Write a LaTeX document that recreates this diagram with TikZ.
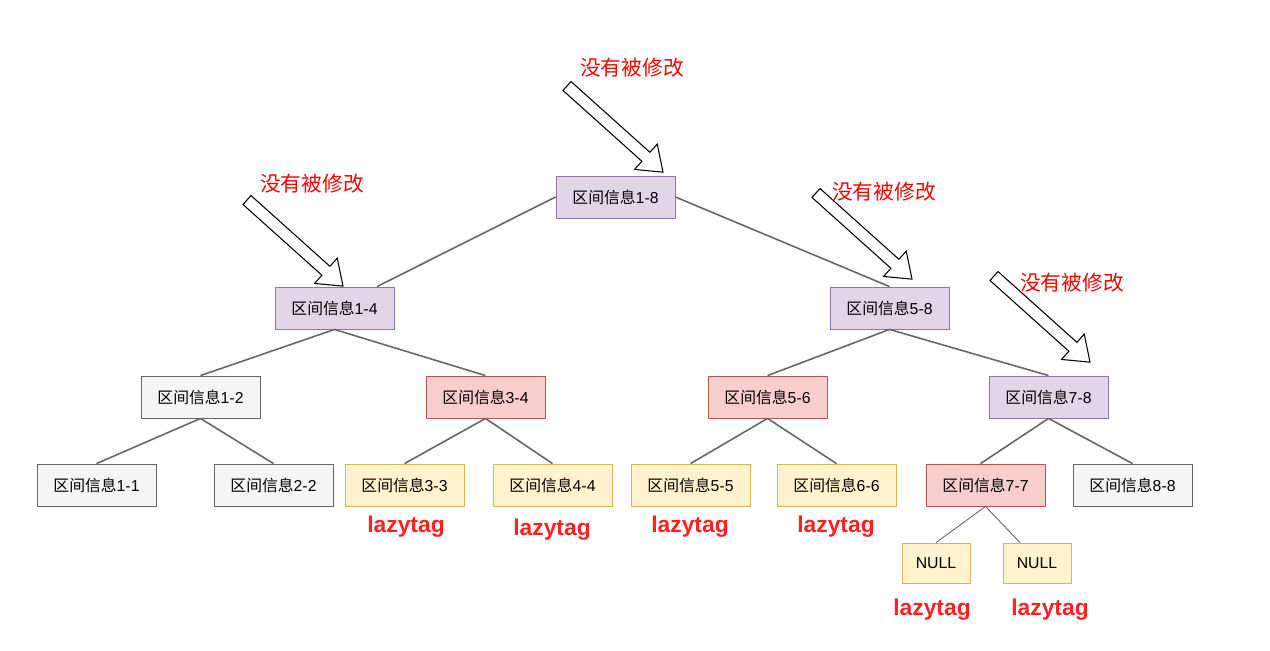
\documentclass[tikz,border=0pt]{standalone}
\usepackage{fontspec}
\setmainfont{Liberation Sans}
\newfontfamily\cjk{Noto Sans CJK SC}
\usetikzlibrary{positioning}
\definecolor{purplefill}{HTML}{E1D5E7}
\definecolor{purpleline}{HTML}{9673A6}
\definecolor{grayfill}{HTML}{F5F5F5}
\definecolor{grayline}{HTML}{666666}
\definecolor{redfill}{HTML}{F8CECC}
\definecolor{redline}{HTML}{B85450}
\definecolor{yellowfill}{HTML}{FFF2CC}
\definecolor{yellowline}{HTML}{D6B656}
\definecolor{edgegray}{HTML}{666666}
\definecolor{notered}{HTML}{FF0000}
\definecolor{lazyred}{HTML}{FF2020}
\newcommand{\qujian}[1]{{\cjk 区间信息}#1}

\begin{document}
\begin{tikzpicture}[
    x=0.02cm, y=-0.02cm,
    box/.style={rectangle, draw, line width=0.5pt, minimum width=2.38cm, minimum height=0.84cm, inner sep=0pt, font=\fontsize{9}{10}\selectfont},
    purplebox/.style={box, fill=purplefill, draw=purpleline},
    graybox/.style={box, fill=grayfill, draw=grayline},
    redbox/.style={box, fill=redfill, draw=redline},
    yellowbox/.style={box, fill=yellowfill, draw=yellowline},
    nullbox/.style={yellowbox, minimum width=1.36cm, minimum height=0.8cm},
    edge/.style={draw=edgegray, line width=0.9pt},
    thinedge/.style={draw=edgegray, line width=0.5pt},
    note/.style={text=notered, font=\cjk\fontsize{11.8}{13}\selectfont},
    lazy/.style={text=lazyred, font=\bfseries\fontsize{13}{15}\selectfont},
    hollowarrow/.pic={
        \draw[fill=white, line width=0.6pt, line join=miter]
            (0,-6) -- (106,-6) -- (106,-17) -- (129,0) -- (106,17) -- (106,6) -- (0,6) -- cycle;
    }
]
\useasboundingbox (0,0) rectangle (1270,650);

% level 0
\node[purplebox] (n18) at (615.5,197) {\qujian{1-8}};
% level 1
\node[purplebox] (n14) at (334.5,308) {\qujian{1-4}};
\node[purplebox] (n58) at (889.5,308) {\qujian{5-8}};
% level 2
\node[graybox]   (n12) at (200.5,397)  {\qujian{1-2}};
\node[redbox]    (n34) at (485.5,397)  {\qujian{3-4}};
\node[redbox]    (n56) at (767.5,397)  {\qujian{5-6}};
\node[purplebox] (n78) at (1048.5,397) {\qujian{7-8}};
% level 3
\node[graybox]   (n11) at (96.5,485)   {\qujian{1-1}};
\node[graybox]   (n22) at (273.5,485)  {\qujian{2-2}};
\node[yellowbox] (n33) at (404.5,485)  {\qujian{3-3}};
\node[yellowbox] (n44) at (552.5,485)  {\qujian{4-4}};
\node[yellowbox] (n55) at (690.5,485)  {\qujian{5-5}};
\node[yellowbox] (n66) at (836.5,485)  {\qujian{6-6}};
\node[redbox]    (n77) at (985.5,485)  {\qujian{7-7}};
\node[graybox]   (n88) at (1132.5,485) {\qujian{8-8}};
% level 4
\node[nullbox] (nullA) at (936,563)  {NULL};
\node[nullbox] (nullB) at (1037,563) {NULL};

% edges
\draw[edge] (n18.west) -- ([xshift=0.85cm]n14.north);
\draw[edge] (n18.east) -- (n58.north);
\draw[edge] (n14.south) -- (n12.north);
\draw[edge] (n14.south) -- (n34.north);
\draw[edge] (n58.south) -- (n56.north);
\draw[edge] (n58.south) -- (n78.north);
\draw[edge] (n12.south) -- (n11.north);
\draw[edge] (n12.south) -- (n22.north);
\draw[edge] (n34.south) -- (n33.north);
\draw[edge] (n34.south) -- (n44.north);
\draw[edge] (n56.south) -- (n55.north);
\draw[edge] (n56.south) -- (n66.north);
\draw[edge] (n78.south) -- ([xshift=-0.1cm]n77.north);
\draw[edge] (n78.south) -- (n88.north);
\draw[thinedge] (n77.south) -- (nullA.north);
\draw[thinedge] (n77.south) -- ([xshift=-0.34cm]nullB.north);

% hollow arrows and notes
\pic[rotate=-41.9] at (567,86)  {hollowarrow};
\pic[rotate=-41.9] at (247,200) {hollowarrow};
\pic[rotate=-41.9] at (816,193) {hollowarrow};
\pic[rotate=-41.9] at (994,276) {hollowarrow};
\node[note] (noteA) at (632,68)   {没有被修改};
\node[note] (noteB) at (312,184)  {没有被修改};
\node[note] (noteC) at (884,192)  {没有被修改};
\node[note] (noteD) at (1072,283) {没有被修改};

% lazy tags
\node[lazy] (lazyA) at (406,527) {lazytag};
\node[lazy] (lazyB) at (552,530) {lazytag};
\node[lazy] (lazyC) at (690,527) {lazytag};
\node[lazy] (lazyD) at (836,527) {lazytag};
\node[lazy] (lazyE) at (932,610) {lazytag};
\node[lazy] (lazyF) at (1050,610) {lazytag};
\end{tikzpicture}
\end{document}
